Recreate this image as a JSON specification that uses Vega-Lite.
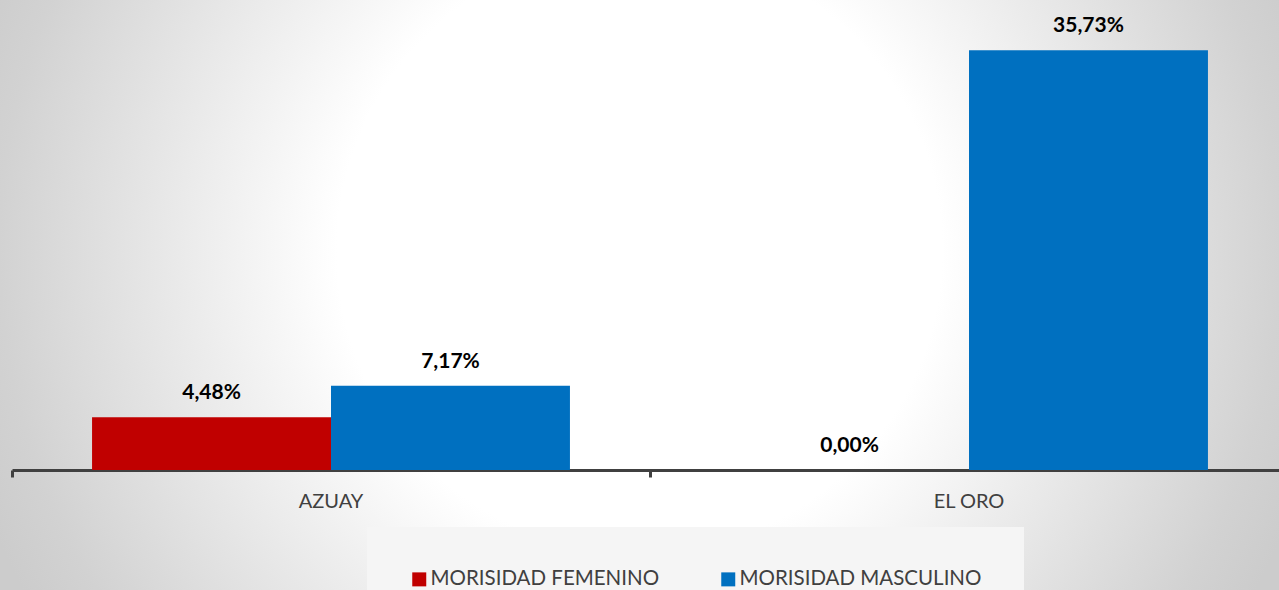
{
  "$schema": "https://vega.github.io/schema/vega-lite/v6.json",
  "width": 1279,
  "height": 590,
  "autosize": {"type": "none"},
  "padding": 0,
  "background": "#d0d0d0",
  "data": {
    "values": [
      {"provincia": "AZUAY", "serie": "MORISIDAD FEMENINO", "valor": 0.0448},
      {"provincia": "AZUAY", "serie": "MORISIDAD MASCULINO", "valor": 0.0717},
      {"provincia": "EL ORO", "serie": "MORISIDAD FEMENINO", "valor": 0.0},
      {"provincia": "EL ORO", "serie": "MORISIDAD MASCULINO", "valor": 0.3573}
    ]
  },
  "encoding": {
    "x": {
      "field": "provincia",
      "type": "nominal",
      "sort": ["AZUAY", "EL ORO"],
      "scale": {"range": [12, 1288], "paddingInner": 0, "paddingOuter": 0},
      "axis": {
        "title": null,
        "offset": -120,
        "labelAngle": 0,
        "bandPosition": 0,
        "domainColor": "#404040",
        "domainWidth": 3,
        "tickColor": "#404040",
        "tickWidth": 3,
        "tickSize": 7,
        "labelFont": "Lato",
        "labelFontSize": 20,
        "labelColor": "#404040",
        "labelPadding": 14,
        "labelBaseline": "top",
        "grid": false
      }
    },
    "xOffset": {
      "field": "serie",
      "type": "nominal",
      "sort": ["MORISIDAD FEMENINO", "MORISIDAD MASCULINO"],
      "scale": {"paddingOuter": 0.335, "paddingInner": 0}
    },
    "y": {
      "field": "valor",
      "type": "quantitative",
      "scale": {"domain": [0, 0.4], "range": [470, 0], "nice": false, "zero": true},
      "axis": null
    }
  },
  "layer": [
    {
      "mark": {"type": "bar"},
      "encoding": {
        "color": {
          "field": "serie",
          "type": "nominal",
          "scale": {
            "domain": ["MORISIDAD FEMENINO", "MORISIDAD MASCULINO"],
            "range": ["#C00000", "#0070C0"]
          },
          "legend": {
            "title": null,
            "orient": "none",
            "legendX": 367,
            "legendY": 527,
            "direction": "horizontal",
            "columns": 2,
            "columnPadding": 58,
            "padding": 42,
            "fillColor": "#f5f5f5",
            "symbolType": "square",
            "symbolSize": 196,
            "symbolStrokeWidth": 0,
            "labelFont": "Lato",
            "labelFontSize": 20.5,
            "labelColor": "#404040",
            "labelOffset": 1,
            "labelLimit": 400
          }
        }
      }
    },
    {
      "mark": {
        "type": "text",
        "align": "center",
        "baseline": "alphabetic",
        "dy": -18,
        "font": "Lato",
        "fontSize": 21,
        "fontWeight": "bold",
        "color": "#000000"
      },
      "encoding": {
        "text": {"field": "valor", "type": "quantitative", "format": ".2%"}
      }
    }
  ],
  "config": {
    "locale": {
      "number": {"decimal": ",", "thousands": ".", "grouping": [3], "currency": ["$", ""]}
    },
    "view": {
      "stroke": null,
      "fill": {
        "gradient": "radial",
        "x1": 0.5, "y1": 0.465, "r1": 0,
        "x2": 0.5, "y2": 0.465, "r2": 0.55,
        "stops": [
          {"offset": 0, "color": "#ffffff"},
          {"offset": 0.43, "color": "#ffffff"},
          {"offset": 0.91, "color": "#d2d2d2"},
          {"offset": 1, "color": "#cccccc"}
        ]
      }
    }
  }
}
